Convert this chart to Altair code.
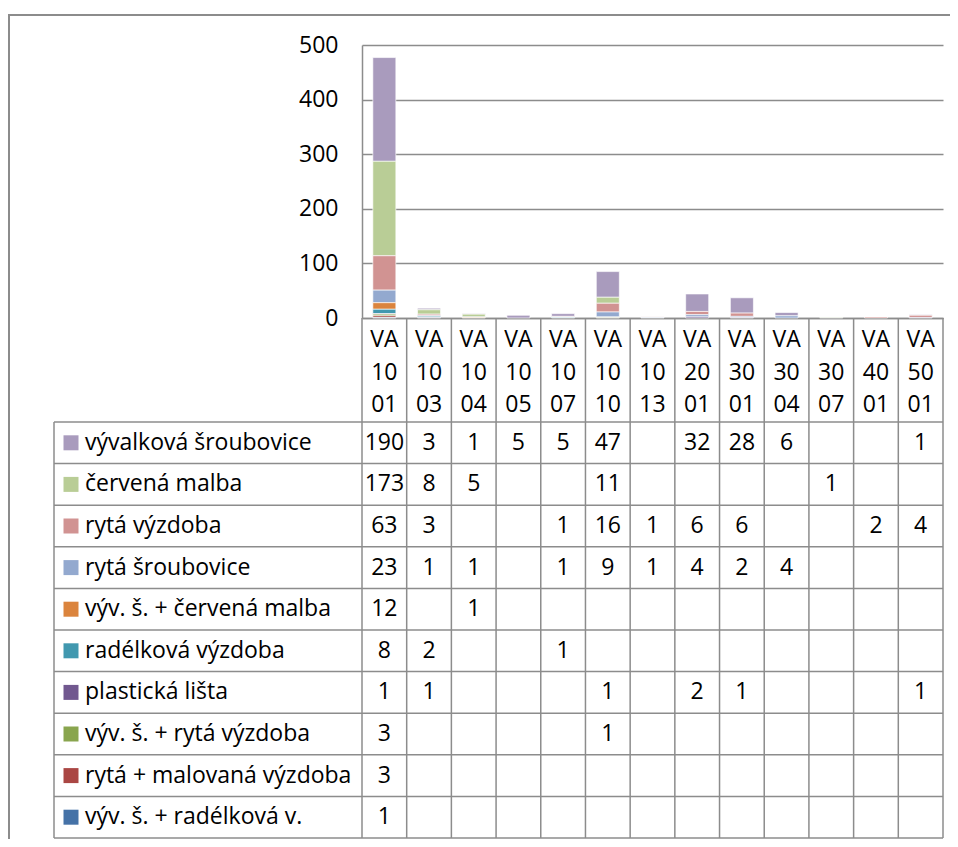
import altair as alt
import pandas as pd

categories = ["VA1001", "VA1003", "VA1004", "VA1005", "VA1007", "VA1010", "VA1013",
              "VA2001", "VA3001", "VA3004", "VA3007", "VA4001", "VA5001"]

# table order (top to bottom); stacked bottom-up in reverse order
series_names = [
    "vývalková šroubovice",
    "červená malba",
    "rytá výzdoba",
    "rytá šroubovice",
    "výv. š. + červená malba",
    "radélková výzdoba",
    "plastická lišta",
    "výv. š. + rytá výzdoba",
    "rytá + malovaná výzdoba",
    "výv. š. + radélková v.",
]
series_colors = ["#A99BBD", "#B9CD96", "#D19392", "#93A9CF", "#DB843D",
                 "#4198AF", "#71588F", "#89A54E", "#AA4643", "#4572A7"]

N = None
vyvalkova = [190, 3, 1, 5, 5, 47, N, 32, 28, 6, N, N, 1]
cervena = [173, 8, 5, N, N, 11, N, N, N, N, 1, N, N]
ryta_vyzdoba = [63, 3, N, N, 1, 16, 1, 6, 6, N, N, 2, 4]
ryta_sroubovice = [23, 1, 1, N, 1, 9, 1, 4, 2, 4, N, N, N]
vyv_cervena = [12, N, 1, N, N, N, N, N, N, N, N, N, N]
radelkova = [8, 2, N, N, 1, N, N, N, N, N, N, N, N]
plasticka = [1, 1, N, N, N, 1, N, 2, 1, N, N, N, 1]
vyv_ryta = [3, N, N, N, N, 1, N, N, N, N, N, N, N]
ryta_malovana = [3, N, N, N, N, N, N, N, N, N, N, N, N]
vyv_radelkova = [1, N, N, N, N, N, N, N, N, N, N, N, N]

series_values = [vyvalkova, cervena, ryta_vyzdoba, ryta_sroubovice, vyv_cervena,
                 radelkova, plasticka, vyv_ryta, ryta_malovana, vyv_radelkova]

y_ticks = [0, 100, 200, 300, 400, 500]

rows = []
for i, (name, vals) in enumerate(zip(series_names, series_values)):
    for cat, v in zip(categories, vals):
        if v is not None:
            rows.append({"series": name, "cat": cat, "value": v,
                         "stack": len(series_names) - 1 - i})
df = pd.DataFrame(rows)
cat_df = pd.DataFrame({"cat": categories,
                       "hdr": [c[:2] + "\n" + c[2:4] + "\n" + c[4:] for c in categories]})
ser_df = pd.DataFrame({"series": series_names})
one = pd.DataFrame({"a": [0]})

FONT = "Open Sans"
GRID = "#8C8C8C"
W, H = 581, 273
ROW_TOP, ROW_BOTTOM = 377, 793
LEG_LEFT = -308

color_scale = alt.Scale(domain=series_names, range=series_colors)

bars = alt.Chart(df).mark_bar(stroke="white", strokeWidth=0.8, strokeOpacity=0.8).encode(
    x=alt.X("cat:N", sort=categories,
            scale=alt.Scale(domain=categories, paddingInner=0.485, paddingOuter=0.2425),
            axis=alt.Axis(title=None, labels=False, ticks=False, domain=True,
                          domainColor=GRID, domainWidth=1.5, grid=False)),
    y=alt.Y("value:Q", stack="zero", scale=alt.Scale(domain=[0, 500], nice=False),
            axis=alt.Axis(title=None, values=y_ticks, grid=True, gridColor=GRID,
                          gridWidth=1.5, ticks=False, domain=True, domainColor=GRID,
                          domainWidth=1.5, labelFont=FONT, labelFontSize=23,
                          labelColor="black", labelPadding=24)),
    color=alt.Color("series:N", scale=color_scale, legend=None),
    order=alt.Order("stack:Q", sort="ascending"),
)

xT = alt.Scale(domain=categories, paddingInner=0, paddingOuter=0)
yT = alt.Scale(domain=series_names, range=[ROW_TOP, ROW_BOTTOM], paddingInner=0, paddingOuter=0)

h_rules = alt.Chart(ser_df).mark_rule(color=GRID, strokeWidth=1.5).encode(
    y=alt.Y("series:N", bandPosition=0, scale=yT, axis=None),
    x=alt.value(LEG_LEFT), x2=alt.value(W))
h_rule_bottom = alt.Chart(ser_df).transform_filter(
    alt.datum.series == series_names[-1]).mark_rule(color=GRID, strokeWidth=1.5).encode(
    y=alt.Y("series:N", bandPosition=1, scale=yT, axis=None),
    x=alt.value(LEG_LEFT), x2=alt.value(W))
v_rules = alt.Chart(cat_df).mark_rule(color=GRID, strokeWidth=1.5).encode(
    x=alt.X("cat:N", bandPosition=1, scale=xT, axis=None),
    y=alt.value(H), y2=alt.value(ROW_BOTTOM))
v_rule_left = alt.Chart(cat_df).transform_filter(
    alt.datum.cat == categories[0]).mark_rule(color=GRID, strokeWidth=1.5).encode(
    x=alt.X("cat:N", bandPosition=0, scale=xT, axis=None),
    y=alt.value(H), y2=alt.value(ROW_BOTTOM))
leg_left = alt.Chart(one).mark_rule(color=GRID, strokeWidth=1.5).encode(
    x=alt.value(LEG_LEFT), y=alt.value(ROW_TOP), y2=alt.value(ROW_BOTTOM))

border_top = alt.Chart(one).mark_rule(color=GRID, strokeWidth=2).encode(
    x=alt.value(-353), x2=alt.value(620), y=alt.value(-30))
border_left = alt.Chart(one).mark_rule(color=GRID, strokeWidth=2).encode(
    x=alt.value(-353), y=alt.value(-31), y2=alt.value(830))

header = alt.Chart(cat_df).mark_text(lineBreak="\n", lineHeight=32.5, font=FONT,
                                     fontSize=23, baseline="middle", color="black").encode(
    x=alt.X("cat:N", scale=xT, axis=None), y=alt.value(295), text="hdr:N")

values = alt.Chart(df).mark_text(font=FONT, fontSize=23, baseline="middle",
                                 color="black").encode(
    x=alt.X("cat:N", scale=xT, axis=None),
    y=alt.Y("series:N", scale=yT, axis=None),
    text="value:Q")

swatches = alt.Chart(ser_df).mark_square(size=225, opacity=1).encode(
    x=alt.value(-291),
    y=alt.Y("series:N", scale=yT, axis=None),
    color=alt.Color("series:N", scale=color_scale, legend=None))

leg_text = alt.Chart(ser_df).mark_text(font=FONT, fontSize=23, baseline="middle",
                                       align="left", color="black").encode(
    x=alt.value(-277),
    y=alt.Y("series:N", scale=yT, axis=None),
    text="series:N")

table = alt.layer(h_rules, h_rule_bottom, v_rules, v_rule_left, leg_left,
                  border_top, border_left, header, values, swatches, leg_text)

chart = alt.layer(bars, table).resolve_scale(x="independent", y="independent").properties(
    width=W, height=H,
    autosize=alt.AutoSizeParams(type="none"),
    padding={"left": 354, "top": 37, "right": 7, "bottom": 521},
    background="white",
).configure_view(stroke=None)

chart.save("out.html", embed_options={"renderer": "svg", "actions": False})
